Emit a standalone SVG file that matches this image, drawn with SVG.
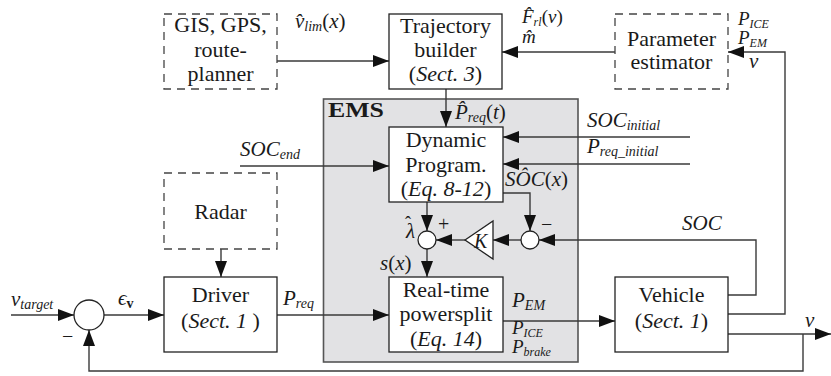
<svg xmlns="http://www.w3.org/2000/svg" width="831" height="376" viewBox="0 0 831 376" font-family="'Liberation Serif', 'Times New Roman', serif">
<defs>
<marker id="ah" viewBox="0 0 16 12" markerWidth="16" markerHeight="12" refX="16" refY="6" orient="auto" markerUnits="userSpaceOnUse">
<path d="M0,0 L16,6 L0,12 z" fill="#111"/>
</marker>
<style>
.box{fill:#fff;stroke:#222;stroke-width:1.3}
.dbox{fill:none;stroke:#444;stroke-width:1.3;stroke-dasharray:8 6}
.ems{fill:#e2e2e4;stroke:#555;stroke-width:1.6}
.c{fill:none;stroke:#3a3a3a;stroke-width:1.4}
.a{marker-end:url(#ah)}
.sum{fill:#fff;stroke:#222;stroke-width:1.3}
text{font-family:'Liberation Serif','Times New Roman',serif;fill:#1a1a1a}
.t{font-size:22px;text-anchor:middle}
.i{font-style:italic}
.m{font-size:21px;font-style:italic}
.n{font-size:19px;font-style:italic}
.s{font-size:14px}
.q{font-size:12px}
.u{font-style:normal}
</style>
</defs>
<rect class="ems" x="323.5" y="99" width="254.5" height="263"/>
<text x="328" y="117" font-size="21" font-weight="bold" textLength="56" lengthAdjust="spacingAndGlyphs">EMS</text>

<g id="connectors">
<path class="c a" d="M277,61 H389"/>
<path class="c a" d="M615,52 H502"/>
<path class="c a" d="M728,314 H785 V52 H728"/>
<path class="c a" d="M446,89 V127"/>
<path class="c a" d="M240,166 H389"/>
<path class="c a" d="M690,137 H503"/>
<path class="c a" d="M690,164 H503"/>
<path class="c a" d="M427,202 V231"/>
<path class="c a" d="M503,193 H530 V231"/>
<path class="c a" d="M728,295 H756 V240 H539"/>
<path class="c a" d="M521,240 H493"/>
<path class="c a" d="M465,240 H436"/>
<path class="c a" d="M427,249 V277"/>
<path class="c a" d="M221,249 V277"/>
<path class="c a" d="M11,315 H74"/>
<path class="c a" d="M104,315 H164"/>
<path class="c a" d="M277,315 H389"/>
<path class="c a" d="M503,321 H615"/>
<path class="c a" d="M728,334 H831"/>
<path class="c a" d="M803,334 V371 H89 V330"/>
</g>

<g id="gis">
<rect class="dbox" x="164" y="14" width="113" height="75"/>
<text class="t" x="220.5" y="32">GIS, GPS,</text>
<text class="t" x="220.5" y="57">route-</text>
<text class="t" x="220.5" y="81">planner</text>
</g>
<g id="trajectory">
<rect class="box" x="389" y="14" width="113" height="75"/>
<text class="t" x="445.5" y="33">Trajectory</text>
<text class="t" x="445.5" y="57">builder</text>
<text class="t" x="445.5" y="81">(<tspan class="i">Sect. 3</tspan>)</text>
</g>
<g id="param">
<rect class="dbox" x="615" y="14" width="113" height="75"/>
<text class="t" x="671.5" y="46">Parameter</text>
<text class="t" x="671.5" y="69">estimator</text>
</g>
<g id="dp">
<rect class="box" x="389" y="127" width="114" height="75"/>
<text class="t" x="446" y="147">Dynamic</text>
<text class="t" x="446" y="172">Program.</text>
<text class="t" x="446" y="196">(<tspan class="i">Eq. 8-12</tspan>)</text>
</g>
<g id="radar">
<rect class="dbox" x="164" y="173" width="113" height="76"/>
<text class="t" x="220.5" y="219">Radar</text>
</g>
<g id="sum1">
<circle class="sum" cx="427" cy="240" r="9"/>
</g>
<g id="sum2">
<circle class="sum" cx="530" cy="240" r="9"/>
</g>
<g id="gainK">
<path d="M465,240 L493,221 L493,259 z" fill="#fff" stroke="#222" stroke-width="1.3"/>
<text x="474" y="248" font-size="20" class="i">K</text>
</g>
<g id="sum0">
<circle class="sum" cx="89" cy="315" r="15"/>
</g>
<g id="driver">
<rect class="box" x="164" y="277" width="113" height="75"/>
<text class="t" x="220.5" y="302">Driver</text>
<text class="t" x="220.5" y="328">(<tspan class="i">Sect. 1</tspan> )</text>
</g>
<g id="realtime">
<rect class="box" x="389" y="277" width="114" height="75"/>
<text class="t" x="446" y="297">Real-time</text>
<text class="t" x="446" y="321">powersplit</text>
<text class="t" x="446" y="346">(<tspan class="i">Eq. 14</tspan>)</text>
</g>
<g id="vehicle">
<rect class="box" x="615" y="277" width="113" height="75"/>
<text class="t" x="671.5" y="302">Vehicle</text>
<text class="t" x="671.5" y="328">(<tspan class="i">Sect. 1</tspan>)</text>
</g>

<g id="labels">
<text class="m" x="295" y="28">v̂<tspan class="s" dy="3">lim</tspan><tspan class="u" dy="-3">(</tspan>x<tspan class="u">)</tspan></text>
<text class="n" x="522" y="23">F̂<tspan class="q" dy="3">rl</tspan><tspan class="u" dy="-3">(</tspan>v<tspan class="u">)</tspan></text>
<text class="n" x="522" y="43">m̂</text>
<text class="n" x="738" y="25">P<tspan class="q" dy="3">ICE</tspan></text>
<text class="n" x="738" y="44">P<tspan class="q" dy="3">EM</tspan></text>
<text class="m" x="749" y="68">v</text>
<text class="m" x="455" y="119">P̂<tspan class="s" dy="3">req</tspan><tspan class="u" dy="-3">(</tspan>t<tspan class="u">)</tspan></text>
<text class="m" x="587" y="127">SOC<tspan class="s" dy="3">initial</tspan></text>
<text class="m" x="587" y="153">P<tspan class="s" dy="3">req_initial</tspan></text>
<text class="m" x="240" y="156">SOC<tspan class="s" dy="3">end</tspan></text>
<text class="m" x="505" y="186">SÔC<tspan class="u">(</tspan>x<tspan class="u">)</tspan></text>
<text class="m" x="682" y="230">SOC</text>
<text class="m" x="405" y="238">λ<tspan class="u" font-size="18" dx="-10" dy="-9">ˆ</tspan></text>
<text x="438" y="231" font-size="20">+</text>
<text x="541" y="231" font-size="20">−</text>
<text class="m" x="380" y="270">s<tspan class="u">(</tspan>x<tspan class="u">)</tspan></text>
<text class="m" x="11" y="306">v<tspan class="s" dy="3">target</tspan></text>
<text class="m" x="118" y="305">ϵ<tspan class="s u" font-weight="bold" dy="3">v</tspan></text>
<text x="62" y="343" font-size="20">−</text>
<text class="m" x="283" y="305">P<tspan class="s" dy="3">req</tspan></text>
<text class="m" x="512" y="307">P<tspan class="s" dy="3">EM</tspan></text>
<text class="n" x="512" y="334">P<tspan class="q" dy="3">ICE</tspan></text>
<text class="n" x="512" y="353">P<tspan class="q" dy="3">brake</tspan></text>
<text class="m" x="805" y="327">v</text>
</g>
</svg>
